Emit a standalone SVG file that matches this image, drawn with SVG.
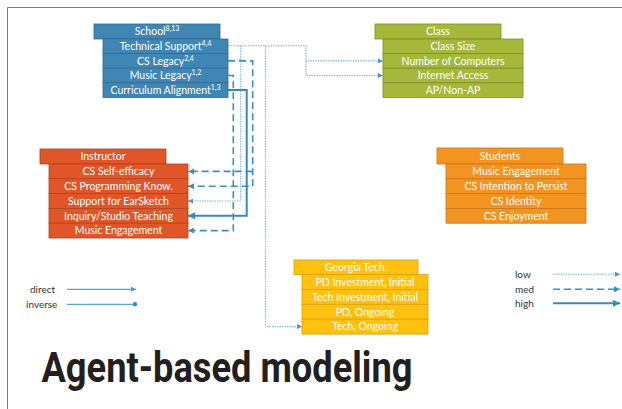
<svg xmlns="http://www.w3.org/2000/svg" width="622" height="409" viewBox="0 0 622 409">
<style>
text{font-family:Lato,"Open Sans","DejaVu Sans",sans-serif;font-size:10.5px;fill:#fff;text-anchor:middle}
.sup{font-size:7px}
.sch{fill:#4086B5;stroke:#2F6C95;stroke-width:0.8}
.cls{fill:#A5B83A;stroke:#7E8D26;stroke-width:0.8}
.ins{fill:#E05628;stroke:#B5421B;stroke-width:0.8}
.stu{fill:#F39421;stroke:#C8761A;stroke-width:0.8}
.gt{fill:#FEC10F;stroke:#D7A202;stroke-width:0.8}
.low{fill:none;stroke:#7FB5DC;stroke-width:1.1;stroke-dasharray:1.5 1}
.med{fill:none;stroke:#3D8DC3;stroke-width:1.6;stroke-dasharray:7 4}
.high{fill:none;stroke:#3A87BE;stroke-width:2}
.leg{fill:#333;text-anchor:start;font-size:10px}
.line{fill:none;stroke:#3D8BC1;stroke-width:1}
</style>
<defs>
<marker id="aL" viewBox="0 0 6 6" refX="6" refY="3" markerWidth="5" markerHeight="5" orient="auto" markerUnits="userSpaceOnUse"><path d="M0,0L6,3L0,6z" fill="#4A94C8"/></marker>
<marker id="aM" viewBox="0 0 6 6" refX="6" refY="3" markerWidth="6" markerHeight="6" orient="auto" markerUnits="userSpaceOnUse"><path d="M0,0L6,3L0,6z" fill="#3D8DC3"/></marker>
<marker id="aH" viewBox="0 0 6 6" refX="6" refY="3" markerWidth="7" markerHeight="7" orient="auto" markerUnits="userSpaceOnUse"><path d="M0,0L6,3L0,6z" fill="#3A87BE"/></marker>
</defs>
<path d="M622,7.5H7.5V409" fill="none" stroke="#7a7a7a" stroke-width="1"/>

<g id="connectors">
<path class="low" d="M228,45.7H306V60.9H383" marker-end="url(#aL)"/>
<path class="low" d="M306,60.9V75.5H383" marker-end="url(#aL)"/>
<path class="low" d="M240.7,45.7V201H188" marker-end="url(#aL)"/>
<path class="low" d="M265.5,45.7V326.6H302" marker-end="url(#aL)"/>
<path class="med" d="M228,60.9H252.7V186.2H188" marker-end="url(#aM)"/>
<path class="med" d="M252.7,171.4H188" marker-end="url(#aM)"/>
<path class="med" d="M228,75.5H233.3V230.6H188" marker-end="url(#aM)"/>
<path class="high" d="M228,90.1H246.7V215.8H188" marker-end="url(#aH)"/>
</g>

<g id="school">
<rect class="sch" x="94" y="24" width="126" height="15"/>
<text x="157" y="35">School<tspan class="sup" dy="-4">8,13</tspan></text>
<rect class="sch" x="103" y="39" width="125" height="14.6"/>
<rect class="sch" x="103" y="53.6" width="125" height="14.6"/>
<rect class="sch" x="103" y="68.2" width="125" height="14.6"/>
<rect class="sch" x="103" y="82.8" width="125" height="14.6"/>
<text x="165.5" y="50">Technical Support<tspan class="sup" dy="-4">4,4</tspan></text>
<text x="165.5" y="64.6">CS Legacy<tspan class="sup" dy="-4">2,4</tspan></text>
<text x="165.5" y="79.2">Music Legacy<tspan class="sup" dy="-4">1,2</tspan></text>
<text x="165.5" y="93.8">Curriculum Alignment<tspan class="sup" dy="-4">1,3</tspan></text>
</g>

<g id="class">
<rect class="cls" x="375" y="24" width="126" height="15"/>
<text x="438" y="35">Class</text>
<rect class="cls" x="383" y="39" width="140" height="14.6"/>
<rect class="cls" x="383" y="53.6" width="140" height="14.6"/>
<rect class="cls" x="383" y="68.2" width="140" height="14.6"/>
<rect class="cls" x="383" y="82.8" width="140" height="14.6"/>
<text x="453" y="50">Class Size</text>
<text x="453" y="64.6">Number of Computers</text>
<text x="453" y="79.2">Internet Access</text>
<text x="453" y="93.8">AP/Non-AP</text>
</g>

<g id="instructor">
<rect class="ins" x="40" y="149" width="126" height="15"/>
<text x="103" y="160">Instructor</text>
<rect class="ins" x="49" y="164" width="139" height="14.8"/>
<rect class="ins" x="49" y="178.8" width="139" height="14.8"/>
<rect class="ins" x="49" y="193.6" width="139" height="14.8"/>
<rect class="ins" x="49" y="208.4" width="139" height="14.8"/>
<rect class="ins" x="49" y="223.2" width="139" height="14.8"/>
<text x="118.5" y="175.1">CS Self-efficacy</text>
<text x="118.5" y="189.9">CS Programming Know.</text>
<text x="118.5" y="204.7">Support for EarSketch</text>
<text x="118.5" y="219.5">Inquiry/Studio Teaching</text>
<text x="118.5" y="234.3">Music Engagement</text>
</g>

<g id="students">
<rect class="stu" x="437" y="148" width="126" height="16"/>
<text x="500" y="159.5">Students</text>
<rect class="stu" x="446" y="164" width="140" height="14.8"/>
<rect class="stu" x="446" y="178.8" width="140" height="14.8"/>
<rect class="stu" x="446" y="193.6" width="140" height="14.8"/>
<rect class="stu" x="446" y="208.4" width="140" height="14.8"/>
<text x="516" y="175.1">Music Engagement</text>
<text x="516" y="189.9">CS Intention to Persist</text>
<text x="516" y="204.7">CS Identity</text>
<text x="516" y="219.5">CS Enjoyment</text>
</g>

<g id="georgia-tech">
<rect class="gt" x="294" y="260" width="124" height="14.5"/>
<text x="356" y="271">Georgia Tech.</text>
<rect class="gt" x="302" y="274.5" width="126" height="14.9"/>
<rect class="gt" x="302" y="289.4" width="126" height="14.9"/>
<rect class="gt" x="302" y="304.3" width="126" height="14.9"/>
<rect class="gt" x="302" y="319.2" width="126" height="14.9"/>
<text x="365" y="285.7">PD Investment, Initial</text>
<text x="365" y="300.6">Tech Investment, Initial</text>
<text x="365" y="315.5">PD, Ongoing</text>
<text x="365" y="330.4">Tech, Ongoing</text>
</g>

<g id="legend">
<text class="leg" x="30" y="292.5">direct</text>
<text class="leg" x="26" y="307.5">inverse</text>
<path class="line" d="M67,289.3H136" marker-end="url(#aL)"/>
<path class="line" d="M67,304.3H135"/>
<circle cx="135" cy="304.3" r="2.2" fill="#3D8BC1"/>
<text class="leg" x="515" y="277.5">low</text>
<text class="leg" x="515" y="292.5">med</text>
<text class="leg" x="515" y="306.5">high</text>
<path class="low" d="M553,274.3H620" marker-end="url(#aL)"/>
<path class="med" d="M553,289.3H620" marker-end="url(#aM)"/>
<path class="high" d="M553,303.3H620" marker-end="url(#aH)"/>
</g>

<text x="41.5" y="382" textLength="371" lengthAdjust="spacingAndGlyphs" style="font-family:Roboto,'Liberation Sans',sans-serif;font-weight:bold;font-size:42px;fill:#231F20;text-anchor:start">Agent-based modeling</text>
</svg>
